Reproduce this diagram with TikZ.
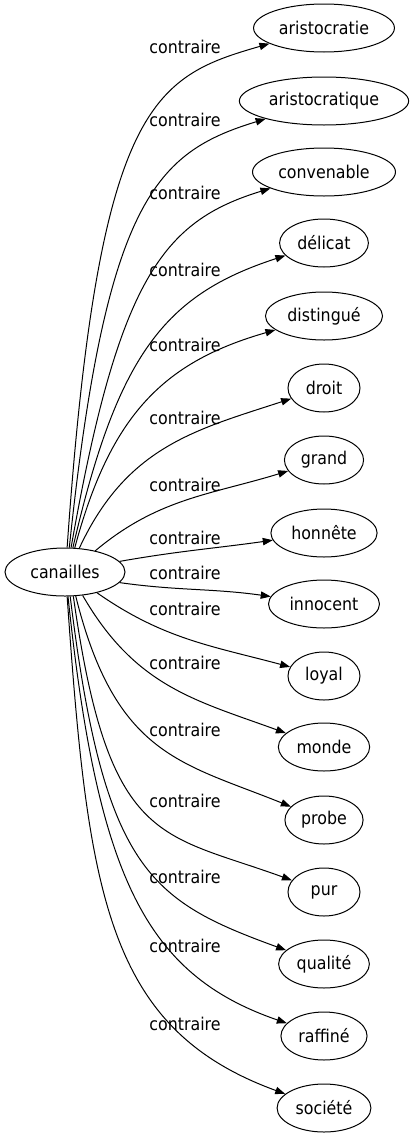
\documentclass[tikz,border=0pt]{standalone}
\usepackage{fontspec}
\setmainfont{DejaVu Sans Condensed}
\usetikzlibrary{shapes.geometric, arrows.meta}

\begin{document}
\begin{tikzpicture}[x=0.75pt, y=-0.75pt,
    word/.style={draw, ellipse, line width=0.75pt, minimum width=54pt, minimum height=36pt, inner xsep=3.6pt, font=\fontsize{13.2}{15}\selectfont},
    rel/.style={inner sep=0pt, font=\fontsize{13.2}{15}\selectfont},
    link/.style={-{Triangle[length=7.5pt, width=5.5pt]}, line width=0.75pt}]
    \useasboundingbox (0,0) rectangle (414,1139);

    % Source
    \node[word, minimum width=90pt] (canailles) at (65,572) {canailles};

    % Targets, labels and connections
    \foreach \name/\word/\ty/\ly/\a/\o/\i/\lo/\li in {
        aristocratie/aristocratie/28/47/85/86/196/2.1/0.57,
        aristocratique/aristocratique/101/120/80/84/197/1.9/0.62,
        convenable/convenable/172/193/76/80/197/1.7/0.7,
        delicat/délicat/243/270/72/77/198/1.4/0.9,
        distingue/distingué/316/345/68/75/196/1.2/1.0,
        droit/droit/388/418/59/65/198/1.1/1.0,
        grand/grand/460/485/35/40/197/1/1,
        honnete/honnête/533/538/11/10/188/1/1,
        innocent/innocent/604/573/-11/-8/172/1/1,
        loyal/loyal/676/609/-33/-35/165/1/1,
        monde/monde/747/663/-53/-60/160/1.1/1.0,
        probe/probe/820/730/-66/-76/158/1.4/1.0,
        pur/pur/892/801/-71/-82/160/1.8/1.0,
        qualite/qualité/964/877/-78/-83/160/1.7/0.9,
        raffine/raffiné/1036/946/-83/-84/161/1.5/0.8,
        societe/société/1108/1024/-85/-86/160/1.4/0.9}
    {
        \node[word] (\name) at (324,\ty) {\word};
        \node[rel] (lab\name) at (185,\ly) {contraire};
        \draw[link] (canailles.\a) to[out=\o, in=\i, out looseness=\lo, in looseness=\li] (\name);
    }
\end{tikzpicture}
\end{document}
